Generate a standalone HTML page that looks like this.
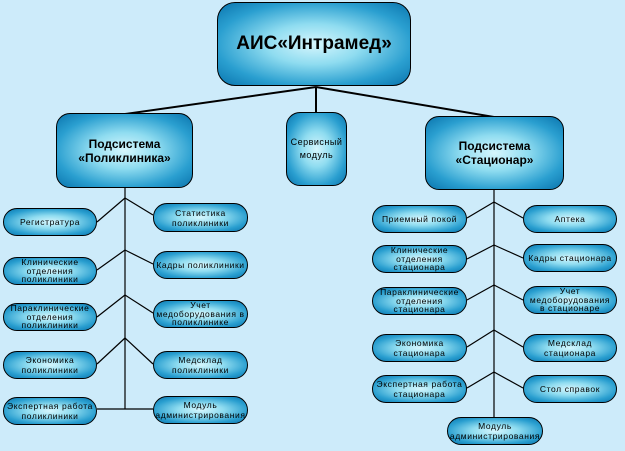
<!DOCTYPE html>
<html><head><meta charset="utf-8"><style>
body{margin:0;width:625px;height:451px;background:#cdebfa;position:relative;overflow:hidden;font-family:"Liberation Sans",sans-serif}
.b{position:absolute;box-sizing:border-box;border:1px solid #000;display:flex;align-items:center;justify-content:center;text-align:center;color:#000;
background:radial-gradient(ellipse at center,#d6f6fd 0%,#8fdcf0 35%,#2a9fd0 72%,#0a74ad 100%);}
.p{border-radius:14px;font-size:8.5px;line-height:10px;letter-spacing:0.6px;padding:0 2px}
.t{line-height:8.8px}
svg{position:absolute;left:0;top:0}
</style></head><body>
<svg width="625" height="451">
<g stroke="#000" stroke-width="2" fill="none">
<line x1="316" y1="87" x2="125" y2="114"/><line x1="316" y1="87" x2="494" y2="117"/><line x1="316" y1="87" x2="316" y2="113"/>
</g>
<g stroke="#000" stroke-width="1.2" fill="none">
<line x1="125" y1="188" x2="125" y2="409"/>
<line x1="125" y1="198" x2="97" y2="222"/><line x1="125" y1="198" x2="153" y2="215"/>
<line x1="125" y1="250" x2="97" y2="270"/><line x1="125" y1="250" x2="153" y2="264"/>
<line x1="125" y1="295" x2="97" y2="317"/><line x1="125" y1="295" x2="153" y2="313"/>
<line x1="125" y1="338" x2="97" y2="364"/><line x1="125" y1="338" x2="153" y2="364"/>
<line x1="97" y1="409" x2="153" y2="409"/>
<line x1="494" y1="190" x2="494" y2="418"/>
<line x1="494" y1="202" x2="467" y2="218"/><line x1="494" y1="202" x2="523" y2="218"/>
<line x1="494" y1="245" x2="467" y2="259"/><line x1="494" y1="245" x2="523" y2="258"/>
<line x1="494" y1="285" x2="467" y2="300"/><line x1="494" y1="285" x2="523" y2="300"/>
<line x1="494" y1="330" x2="467" y2="347"/><line x1="494" y1="330" x2="523" y2="347"/>
<line x1="494" y1="372" x2="467" y2="388"/><line x1="494" y1="372" x2="523" y2="388"/>
</g></svg>
<div class="b" style="left:217px;top:2px;width:194px;height:84px;border-radius:18px;font-weight:bold;font-size:19px">АИС«Интрамед»</div>
<div class="b" style="left:56px;top:113px;width:137px;height:75px;border-radius:14px;font-weight:bold;font-size:12px;line-height:14px">Подсистема<br>«Поликлиника»</div>
<div class="b" style="left:286px;top:112px;width:61px;height:74px;border-radius:14px;font-size:9px;line-height:13px;letter-spacing:0.5px">Сервисный<br>модуль</div>
<div class="b" style="left:425px;top:116px;width:139px;height:74px;border-radius:14px;font-weight:bold;font-size:12px;line-height:14px">Подсистема<br>«Стационар»</div>

<div class="b p" style="left:3px;top:208px;width:94px;height:28px">Регистратура</div>
<div class="b p" style="left:153px;top:203px;width:95px;height:29px">Статистика поликлиники</div>
<div class="b p t" style="left:3px;top:257px;width:94px;height:28px">Клинические отделения поликлиники</div>
<div class="b p" style="left:153px;top:251px;width:95px;height:28px">Кадры поликлиники</div>
<div class="b p t" style="left:3px;top:303px;width:94px;height:28px">Параклинические отделения поликлиники</div>
<div class="b p t" style="left:153px;top:300px;width:95px;height:28px">Учет медоборудования в поликлинике</div>
<div class="b p" style="left:3px;top:351px;width:94px;height:28px">Экономика поликлиники</div>
<div class="b p" style="left:153px;top:351px;width:95px;height:28px">Медсклад поликлиники</div>
<div class="b p" style="left:3px;top:397px;width:94px;height:28px">Экспертная работа поликлиники</div>
<div class="b p" style="left:153px;top:396px;width:95px;height:28px">Модуль администрирования</div>

<div class="b p" style="left:372px;top:205px;width:95px;height:28px">Приемный покой</div>
<div class="b p" style="left:523px;top:205px;width:94px;height:28px">Аптека</div>
<div class="b p t" style="left:372px;top:245px;width:95px;height:28px">Клинические отделения стационара</div>
<div class="b p" style="left:523px;top:244px;width:94px;height:28px">Кадры стационара</div>
<div class="b p t" style="left:372px;top:287px;width:95px;height:28px">Параклинические отделения стационара</div>
<div class="b p t" style="left:523px;top:286px;width:94px;height:28px">Учет медоборудования в стационаре</div>
<div class="b p" style="left:372px;top:334px;width:95px;height:28px">Экономика стационара</div>
<div class="b p" style="left:523px;top:334px;width:94px;height:28px">Медсклад стационара</div>
<div class="b p" style="left:372px;top:375px;width:95px;height:28px">Экспертная работа стационара</div>
<div class="b p" style="left:523px;top:375px;width:94px;height:28px">Стол справок</div>
<div class="b p" style="left:447px;top:417px;width:96px;height:28px">Модуль администрирования</div>
</body></html>
